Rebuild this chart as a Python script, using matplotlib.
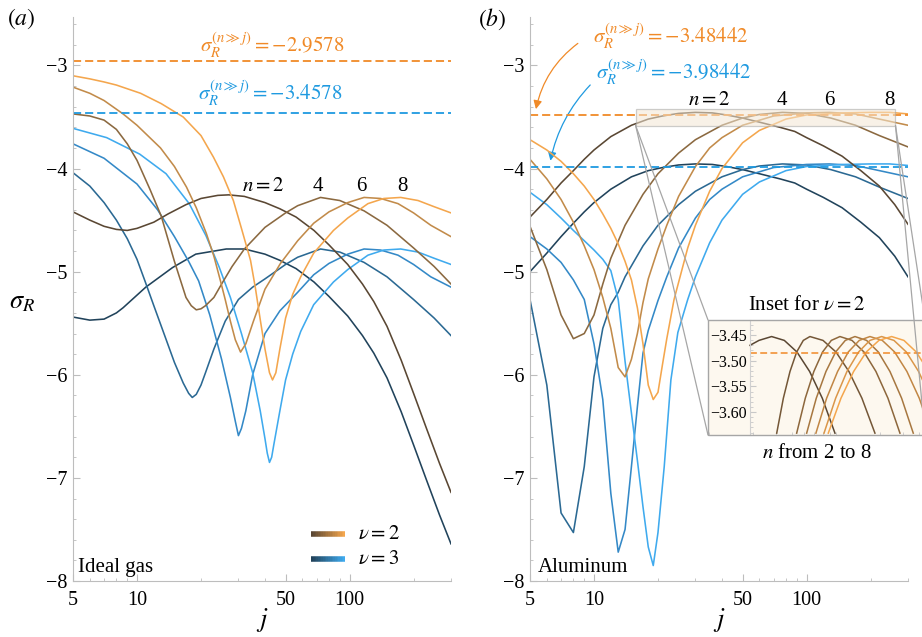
import numpy as np
import matplotlib
matplotlib.use("Agg")
import matplotlib.pyplot as plt
from matplotlib.patches import Rectangle, ConnectionPatch, FancyArrowPatch
from matplotlib.collections import LineCollection
from matplotlib.colors import to_rgb
from matplotlib.ticker import FixedLocator, MultipleLocator, NullFormatter

plt.rcParams["font.family"] = "serif"
plt.rcParams["font.serif"] = ["Liberation Serif", "DejaVu Serif"]
plt.rcParams["mathtext.fontset"] = "stix"

# ---------------- panel (a): ideal gas ----------------
gas_v2_n2_j = [5, 6, 7, 8, 9, 10, 12, 14, 17, 20, 24, 27, 32, 40, 47, 56, 68, 80, 98, 115, 130, 150, 175, 200, 230,
               265, 300]
gas_v2_n2_s = [-4.42, -4.50, -4.56, -4.59, -4.60, -4.58, -4.52, -4.44, -4.35, -4.29, -4.26, -4.255, -4.27, -4.33,
               -4.39, -4.47, -4.60, -4.74, -4.93, -5.12, -5.29, -5.53, -5.86, -6.18, -6.52, -6.86, -7.14]
gas_v2_n4_j = [5, 6, 7, 8, 9, 10, 11.5, 13, 15, 17, 18, 19, 20, 21, 23, 25, 28, 32, 40, 50, 57, 73, 90, 117, 150,
               200, 250, 300]
gas_v2_n4_s = [-3.47, -3.49, -3.53, -3.62, -3.76, -3.92, -4.20, -4.46, -4.90, -5.25, -5.33, -5.37, -5.36, -5.33,
               -5.25, -5.12, -4.95, -4.78, -4.57, -4.43, -4.36, -4.28, -4.31, -4.41, -4.55, -4.77, -4.95, -5.12]
gas_v2_n6_j = [5, 6, 7, 8.6, 10, 12.9, 15, 17.1, 19, 21.2, 23, 24.7, 26, 27.5, 29, 30.7, 32.5, 35.3, 40, 47.3, 57,
               67.8, 80, 98, 117, 140, 169, 200, 241, 300]
gas_v2_n6_s = [-3.21, -3.27, -3.34, -3.47, -3.58, -3.80, -3.98, -4.18, -4.38, -4.63, -4.85, -5.09, -5.27, -5.48,
               -5.66, -5.78, -5.70, -5.48, -5.17, -4.92, -4.70, -4.53, -4.42, -4.33, -4.28, -4.29, -4.34, -4.43,
               -4.55, -4.66]
gas_v2_n8_j = [5, 6, 7, 8, 10.4, 13, 16.5, 20, 22.9, 25.5, 28.4, 31, 34.2, 36, 38.1, 40, 42, 43.4, 45, 47, 50, 54,
               58.9, 67.8, 84, 98, 122, 145, 174, 210, 250, 300]
gas_v2_n8_s = [-3.10, -3.13, -3.16, -3.19, -3.27, -3.37, -3.50, -3.68, -3.89, -4.08, -4.31, -4.58, -4.89, -5.15,
               -5.48, -5.75, -5.98, -6.05, -5.98, -5.75, -5.45, -5.22, -5.05, -4.82, -4.60, -4.48, -4.34, -4.29,
               -4.28, -4.31, -4.37, -4.43]

gas_v3_n2_j = [5, 6, 7, 8, 8.6, 11, 14.7, 18.9, 26.3, 32, 40, 47, 56, 68, 80, 98, 115, 130, 150, 175, 200, 230, 265,
               300]
gas_v3_n2_s = [-5.44, -5.47, -5.46, -5.40, -5.35, -5.15, -4.96, -4.83, -4.78, -4.78, -4.83, -4.89, -4.97, -5.10,
               -5.24, -5.43, -5.62, -5.79, -6.03, -6.36, -6.68, -7.02, -7.36, -7.64]
gas_v3_n4_j = [5, 6, 7, 8, 9, 10, 10.9, 12, 13.5, 15, 16.5, 17.5, 18.2, 19, 20, 21, 23, 26, 30, 35, 40, 50, 57, 73,
               90, 117, 150, 200, 250, 300]
gas_v3_n4_s = [-4.04, -4.17, -4.33, -4.50, -4.68, -4.88, -5.09, -5.33, -5.62, -5.88, -6.08, -6.18, -6.22, -6.19,
               -6.10, -5.98, -5.75, -5.48, -5.27, -5.15, -5.07, -4.93, -4.86, -4.78, -4.81, -4.91, -5.05, -5.27,
               -5.45, -5.62]
gas_v3_n6_j = [5, 7, 10, 12.5, 15, 17.5, 19.5, 22, 25, 27.5, 29, 30, 31, 32.5, 35, 40, 47, 57, 67.8, 80, 98, 117,
               140, 169, 200, 241, 300]
gas_v3_n6_s = [-3.76, -3.90, -4.15, -4.40, -4.66, -4.90, -5.09, -5.42, -5.85, -6.22, -6.45, -6.59, -6.52, -6.35,
               -6.00, -5.60, -5.38, -5.20, -5.03, -4.92, -4.83, -4.78, -4.79, -4.84, -4.93, -5.05, -5.15]
gas_v3_n8_j = [5, 7.2, 10.3, 13.7, 17.6, 21.1, 24.3, 27.5, 31, 35, 38, 40, 41, 42, 43, 44, 47, 50, 54, 58.9, 67.8,
               84, 98, 122, 145, 174, 210, 250, 300]
gas_v3_n8_s = [-3.61, -3.70, -3.86, -4.05, -4.34, -4.65, -4.95, -5.25, -5.60, -5.98, -6.35, -6.62, -6.76, -6.85,
               -6.80, -6.68, -6.35, -6.05, -5.80, -5.58, -5.32, -5.10, -4.98, -4.84, -4.79, -4.78, -4.81, -4.87,
               -4.93]

# ---------------- panel (b): aluminum ----------------
al_v2_n2_j = [5, 6, 7, 8, 9, 10, 12, 15, 18, 21, 25, 30, 36, 42, 50, 60, 75, 88, 100, 120, 147, 180, 220, 260, 300]
al_v2_n2_s = [-4.47, -4.30, -4.14, -4.02, -3.91, -3.82, -3.69, -3.58, -3.52, -3.49, -3.465, -3.455, -3.46, -3.48,
              -3.51, -3.55, -3.60, -3.64, -3.70, -3.78, -3.88, -4.02, -4.17, -4.35, -4.54]
al_v2_n4_j = [5, 6, 7, 8, 9, 10, 11, 12, 14, 17, 20, 25, 30, 40, 50, 60, 77, 100, 130, 170, 220, 300]
al_v2_n4_s = [-4.56, -4.98, -5.42, -5.65, -5.60, -5.42, -5.12, -4.87, -4.55, -4.25, -4.05, -3.85, -3.72, -3.58,
              -3.51, -3.475, -3.455, -3.465, -3.51, -3.58, -3.68, -3.79]
al_v2_n6_j = [5, 6, 7, 8, 9, 10, 11, 12, 13, 14, 15, 16, 17, 18, 20, 22, 25, 30, 35, 40, 50, 70, 100, 128, 170, 220,
              300]
al_v2_n6_s = [-3.91, -4.10, -4.30, -4.52, -4.75, -4.98, -5.25, -5.55, -5.93, -6.02, -5.85, -5.60, -5.30, -5.07,
              -4.78, -4.55, -4.27, -3.98, -3.80, -3.70, -3.58, -3.49, -3.46, -3.455, -3.47, -3.52, -3.58]
al_v2_n8_j = [5, 6, 7, 8, 9, 10, 11, 12, 13, 14, 15, 16, 17, 18, 19, 20, 21, 22, 23.8, 27.6, 30, 35, 40, 50, 60, 80,
              100, 150, 200, 246, 300]
al_v2_n8_s = [-3.72, -3.82, -3.93, -4.05, -4.17, -4.30, -4.44, -4.58, -4.73, -4.90, -5.08, -5.35, -5.70, -6.10,
              -6.24, -6.17, -5.90, -5.65, -5.27, -4.77, -4.55, -4.22, -4.00, -3.75, -3.63, -3.52, -3.48, -3.46,
              -3.455, -3.455, -3.47]

al_v3_n2_j = [5, 6, 7, 8, 9, 10, 12, 15, 18, 21, 25, 30, 36, 42, 50, 60, 75, 88, 100, 120, 147, 180, 220, 260, 300]
al_v3_n2_s = [-5.00, -4.82, -4.66, -4.53, -4.42, -4.33, -4.20, -4.08, -4.02, -3.99, -3.965, -3.955, -3.96, -3.98,
              -4.01, -4.05, -4.10, -4.14, -4.20, -4.28, -4.38, -4.52, -4.67, -4.85, -5.05]
al_v3_n4_j = [5, 6, 7, 8, 9, 10, 11, 12, 13, 14, 17, 20, 25, 30, 40, 50, 60, 77, 100, 130, 170, 220, 300]
al_v3_n4_s = [-5.27, -6.10, -7.34, -7.53, -6.89, -6.02, -5.55, -5.32, -5.20, -5.05, -4.75, -4.55, -4.35, -4.22,
              -4.08, -4.01, -3.975, -3.955, -3.965, -4.01, -4.08, -4.18, -4.29]
al_v3_n6_j = [5, 6, 7, 8, 9, 10, 11, 12, 13, 14, 15, 16, 17, 18, 20, 22, 25, 30, 35, 40, 50, 70, 100, 128, 170, 220,
              300]
al_v3_n6_s = [-4.66, -4.78, -4.91, -5.08, -5.27, -5.70, -6.24, -7.15, -7.72, -7.50, -6.89, -6.31, -5.79, -5.57,
              -5.28, -5.05, -4.77, -4.48, -4.30, -4.20, -4.08, -3.99, -3.96, -3.955, -3.97, -4.02, -4.08]
al_v3_n8_j = [5, 6, 7, 8, 9, 10, 11, 12, 13, 14, 15, 16, 17, 18, 19, 20, 21.4, 23, 24.8, 27.6, 30, 35, 40, 50, 60,
              80, 100, 150, 200, 246, 300]
al_v3_n8_s = [-4.23, -4.35, -4.48, -4.60, -4.70, -4.79, -4.88, -4.99, -5.27, -5.87, -6.37, -6.83, -7.28, -7.67,
              -7.85, -7.53, -6.89, -6.05, -5.59, -5.27, -5.05, -4.72, -4.50, -4.25, -4.13, -4.02, -3.98, -3.96,
              -3.955, -3.955, -3.97]

# ---------------- inset: aluminum, nu = 2, n = 2..8 ----------------
ins_n2_j = [18.8, 22.1, 27.8, 35.0, 44.0, 55.4, 69.7, 87.7]
ins_n2_s = [-3.470, -3.4605, -3.453, -3.4605, -3.483, -3.521, -3.573, -3.641]
ins_n3_j = [30.5, 34.4, 38.8, 43.8, 49.4, 55.7, 70.6, 89.3, 113.0, 143.0, 181.1]
ins_n3_s = [-3.641, -3.573, -3.521, -3.483, -3.4605, -3.453, -3.4605, -3.483, -3.521, -3.573, -3.641]
ins_n4_j = [43.8, 51.2, 59.8, 70.1, 82.1, 96.0, 119.4, 148.4, 184.4, 229.3, 285.0]
ins_n4_s = [-3.641, -3.573, -3.521, -3.483, -3.4605, -3.453, -3.4605, -3.483, -3.521, -3.573, -3.641]
ins_n5_j = [52.5, 62.5, 74.5, 88.8, 105.8, 126.1, 155.7, 192.4, 237.8, 293.8, 362.9]
ins_n5_s = [-3.641, -3.573, -3.521, -3.483, -3.4605, -3.453, -3.4605, -3.483, -3.521, -3.573, -3.641]
ins_n6_j = [62.1, 75.4, 92.0, 111.7, 136.3, 165.4, 206.9, 258.7, 323.5, 404.6, 506.0]
ins_n6_s = [-3.641, -3.573, -3.521, -3.483, -3.4605, -3.453, -3.4605, -3.483, -3.521, -3.573, -3.641]
ins_n7_j = [71.9, 88.8, 109.0, 134.7, 165.4, 204.4, 255.6, 319.7, 399.8, 500.0]
ins_n7_s = [-3.641, -3.573, -3.521, -3.483, -3.4605, -3.453, -3.4605, -3.483, -3.521, -3.573]
ins_n8_j = [77.7, 97.8, 123.0, 154.8, 194.7, 245.0, 306.4, 383.1, 479.2]
ins_n8_s = [-3.641, -3.573, -3.521, -3.483, -3.4605, -3.453, -3.4605, -3.483, -3.521]

gas_limit = [-2.9578, -3.4578]
al_limit = [-3.48442, -3.98442]

nu2_colors = ["#5a4733", "#8b6940", "#c28b4a", "#f4a64d"]
nu3_colors = ["#21435b", "#2b6993", "#3489c7", "#3faaee"]
orange = "#f08a28"
blue = "#1f9ae0"
gray = "#bdbdbd"


def mix(c0, c1, t):
    a, b = np.array(to_rgb(c0)), np.array(to_rgb(c1))
    return tuple(a + (b - a) * t)


def style_axes(ax):
    ax.set_xscale("log")
    ax.set_xlim(5, 300)
    ax.set_ylim(-8, -2.53)
    for s in ("top", "right"):
        ax.spines[s].set_visible(False)
    for s in ("left", "bottom"):
        ax.spines[s].set_color(gray)
        ax.spines[s].set_linewidth(0.8)
    ax.set_xticks([5, 10, 50, 100])
    ax.set_xticklabels(["5", "10", "50", "100"])
    ax.xaxis.set_minor_locator(FixedLocator([6, 7, 8, 9, 20, 30, 40, 60, 70, 80, 90, 200, 300]))
    ax.xaxis.set_minor_formatter(NullFormatter())
    ax.set_yticks(range(-8, -2))
    ax.set_yticklabels(["\u2212%d" % -v for v in range(-8, -2)])
    ax.yaxis.set_minor_locator(MultipleLocator(0.2))
    ax.tick_params(which="both", direction="in", color=gray, labelsize=14.5)
    ax.tick_params(which="major", length=5)
    ax.tick_params(which="minor", length=2.5)
    ax.tick_params(axis="x", pad=7)
    ax.tick_params(axis="y", pad=4)
    ax.text(0.5, -0.07, "$j$", transform=ax.transAxes, ha="center", va="center", fontsize=19)


def gradient_swatch(ax, x0, x1, y, c0, c1):
    xs = np.linspace(x0, x1, 21)
    segs = [[(xs[i], y), (xs[i + 1], y)] for i in range(20)]
    cols = [mix(c0, c1, i / 19) for i in range(20)]
    lc = LineCollection(segs, colors=cols, linewidths=4, transform=ax.transAxes, clip_on=False)
    ax.add_collection(lc)


fig = plt.figure(figsize=(9.22, 6.37), dpi=100)
ax_a = fig.add_axes([73 / 922, 1 - 581 / 637, 378 / 922, 564 / 637])
ax_b = fig.add_axes([530 / 922, 1 - 581 / 637, 378 / 922, 564 / 637])

gas_nu2 = [(gas_v2_n2_j, gas_v2_n2_s), (gas_v2_n4_j, gas_v2_n4_s), (gas_v2_n6_j, gas_v2_n6_s), (gas_v2_n8_j, gas_v2_n8_s)]
gas_nu3 = [(gas_v3_n2_j, gas_v3_n2_s), (gas_v3_n4_j, gas_v3_n4_s), (gas_v3_n6_j, gas_v3_n6_s), (gas_v3_n8_j, gas_v3_n8_s)]
al_nu2 = [(al_v2_n2_j, al_v2_n2_s), (al_v2_n4_j, al_v2_n4_s), (al_v2_n6_j, al_v2_n6_s), (al_v2_n8_j, al_v2_n8_s)]
al_nu3 = [(al_v3_n2_j, al_v3_n2_s), (al_v3_n4_j, al_v3_n4_s), (al_v3_n6_j, al_v3_n6_s), (al_v3_n8_j, al_v3_n8_s)]

for ax, nu2, nu3 in ((ax_a, gas_nu2, gas_nu3), (ax_b, al_nu2, al_nu3)):
    style_axes(ax)
    for (j, s), c in zip(nu3, nu3_colors):
        ax.plot(j, s, color=c, lw=1.15)
    for (j, s), c in zip(nu2, nu2_colors):
        ax.plot(j, s, color=c, lw=1.15)

# ---- panel (a) decorations ----
ax_a.axhline(gas_limit[0], color=orange, lw=1.3, ls=(0, (4.5, 2.2)))
ax_a.axhline(gas_limit[1], color=blue, lw=1.3, ls=(0, (4.5, 2.2)))
ax_a.text(19.8, -2.874, r"$\sigma_R^{(n\gg j)} = -2.9578$", color=orange, fontsize=15, va="baseline")
ax_a.text(19.3, -3.34, r"$\sigma_R^{(n\gg j)} = -3.4578$", color=blue, fontsize=15, va="baseline")
ax_a.text(31.2, -4.214, "$n = 2$", fontsize=15, va="baseline")
for x, t in ((71, "4"), (114, "6"), (177, "8")):
    ax_a.text(x, -4.214, t, fontsize=15, va="baseline", ha="center")
ax_a.text(0.013, 0.016, "Ideal gas", transform=ax_a.transAxes, fontsize=15, va="baseline")
gradient_swatch(ax_a, 0.63, 0.72, 0.083, nu2_colors[0], nu2_colors[3])
gradient_swatch(ax_a, 0.63, 0.72, 0.039, nu3_colors[0], nu3_colors[3])
ax_a.text(0.754, 0.083, r"$\nu = 2$", transform=ax_a.transAxes, fontsize=15, va="center")
ax_a.text(0.754, 0.039, r"$\nu = 3$", transform=ax_a.transAxes, fontsize=15, va="center")
fig.text(21 / 922, 1 - 19 / 637, "$(a)$", fontsize=17, ha="center", va="center")
fig.text(22 / 922, 1 - 303 / 637, r"$\sigma_R$", fontsize=19, ha="center", va="center")

# ---- panel (b) decorations ----
ax_b.axhline(al_limit[0], color=orange, lw=1.3, ls=(0, (4.5, 2.2)))
ax_b.axhline(al_limit[1], color=blue, lw=1.3, ls=(0, (4.5, 2.2)))
ax_b.text(9.84, -2.79, r"$\sigma_R^{(n\gg j)} = -3.48442$", color=orange, fontsize=15, va="baseline")
ax_b.text(10.2, -3.14, r"$\sigma_R^{(n\gg j)} = -3.98442$", color=blue, fontsize=15, va="baseline")
ax_b.add_patch(FancyArrowPatch((8.6, -2.77), (5.3, -3.45), connectionstyle="arc3,rad=0.2",
                               arrowstyle="-|>,head_length=5,head_width=2.5", color=orange, lw=0.9))
ax_b.add_patch(FancyArrowPatch((9.8, -3.17), (6.2, -3.95), connectionstyle="arc3,rad=0.15",
                               arrowstyle="-|>,head_length=5,head_width=2.5", color=blue, lw=0.9))
ax_b.text(27.7, -3.379, "$n = 2$", fontsize=15, va="baseline")
for x, t in ((76.5, "4"), (128, "6"), (246, "8")):
    ax_b.text(x, -3.379, t, fontsize=15, va="baseline", ha="center")
ax_b.text(0.021, 0.016, "Aluminum", transform=ax_b.transAxes, fontsize=15, va="baseline")
fig.text(492 / 922, 1 - 19 / 637, "$(b)$", fontsize=17, ha="center", va="center")

# zoom box and inset
ax_b.add_patch(Rectangle((15.7, -3.583), 262 - 15.7, 0.156, facecolor="#f3e7d4", alpha=0.55,
                         edgecolor="#a6a6a6", lw=0.9, zorder=3))
ax_in = fig.add_axes([708 / 922, 1 - 435 / 637, 217 / 922, 115 / 637])
ax_in.set_facecolor("#fdf8ef")
ax_in.set_xscale("log")
ax_in.set_xlim(8.77, 449)
ax_in.set_ylim(-3.6446, -3.4208)
ins_curves = [(ins_n2_j, ins_n2_s), (ins_n3_j, ins_n3_s), (ins_n4_j, ins_n4_s), (ins_n5_j, ins_n5_s),
              (ins_n6_j, ins_n6_s), (ins_n7_j, ins_n7_s), (ins_n8_j, ins_n8_s)]
for i, (j, s) in enumerate(ins_curves):
    ax_in.plot(j, s, color=mix(nu2_colors[0], nu2_colors[3], i / 6), lw=1.1)
ax_in.plot([18.8, 449], [al_limit[0], al_limit[0]], color=orange, lw=1.1, ls=(0, (4.5, 2.2)))
for s in ("top", "right", "bottom"):
    ax_in.spines[s].set_visible(False)
ax_in.spines["left"].set_position(("data", 18.8))
ax_in.spines["left"].set_color("#d0d0d0")
ax_in.set_xticks([])
ax_in.set_yticks([-3.60, -3.55, -3.50, -3.45])
ax_in.set_yticklabels(["\u22123.60", "\u22123.55", "\u22123.50", "\u22123.45"])
ax_in.yaxis.set_minor_locator(MultipleLocator(0.01))
ax_in.tick_params(which="both", direction="in", color="#c8c8c8", labelsize=11.5, pad=2)
ax_in.tick_params(which="major", length=4)
ax_in.tick_params(which="minor", length=2)
ax_in.add_patch(Rectangle((0, 0), 1, 1, transform=ax_in.transAxes, fill=False, edgecolor="#a6a6a6",
                          lw=1.0, clip_on=False, zorder=5))
for xa, ya in ((0, 1), (0, 0)):
    fig.add_artist(ConnectionPatch((15.7, -3.583), (xa, ya), coordsA=ax_b.transData, coordsB=ax_in.transAxes,
                                   color="#a6a6a6", lw=0.9))
for xa, ya in ((1, 1), (1, 0)):
    fig.add_artist(ConnectionPatch((262, -3.583), (xa, ya), coordsA=ax_b.transData, coordsB=ax_in.transAxes,
                                   color="#a6a6a6", lw=0.9))
fig.text(807 / 922, 1 - 306 / 637, r"Inset for $\nu = 2$", fontsize=15, ha="center", va="center")
fig.text(817 / 922, 1 - 453 / 637, "$n$ from 2 to 8", fontsize=15, ha="center", va="center")

fig.savefig("out.png", dpi=100)
